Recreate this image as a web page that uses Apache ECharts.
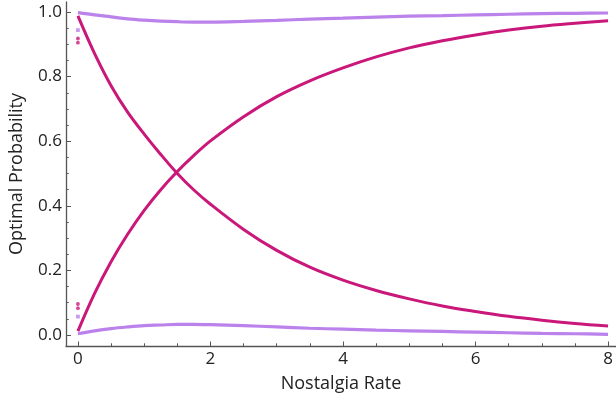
<!DOCTYPE html>
<html>
<head>
<meta charset="utf-8">
<script src="https://cdn.jsdelivr.net/npm/echarts@6/dist/echarts.min.js"></script>
<style>html,body{margin:0;padding:0;background:#fff;}#c{width:616px;height:402px;}</style>
</head>
<body>
<div id="c"></div>
<script>
var xs = [0, 0.25, 0.5, 0.75, 1, 1.25, 1.5, 1.75, 2, 2.5, 3, 3.5, 4, 4.5, 5, 5.5, 6, 6.5, 7, 7.5, 8];
var decreasing = [0.988, 0.872, 0.772, 0.690, 0.622, 0.559, 0.500, 0.449, 0.405, 0.327, 0.262, 0.210, 0.170, 0.138, 0.112, 0.090, 0.073, 0.058, 0.046, 0.036, 0.028];
var increasing = [0.012, 0.128, 0.227, 0.312, 0.386, 0.450, 0.506, 0.556, 0.601, 0.676, 0.738, 0.787, 0.827, 0.861, 0.889, 0.911, 0.929, 0.944, 0.956, 0.965, 0.973];
var upperLight = [0.998, 0.991, 0.985, 0.979, 0.975, 0.972, 0.970, 0.969, 0.969, 0.971, 0.974, 0.978, 0.981, 0.984, 0.987, 0.989, 0.991, 0.993, 0.995, 0.996, 0.997];
var lowerLight = [0.004, 0.013, 0.020, 0.025, 0.029, 0.031, 0.033, 0.033, 0.032, 0.029, 0.025, 0.021, 0.018, 0.015, 0.013, 0.011, 0.009, 0.007, 0.005, 0.004, 0.002];
var dotsDark = [[0, 0.918], [0, 0.905], [0, 0.096], [0, 0.083]];
var dotsLight = [[0, 0.944], [0, 0.057]];
var xMajorTicks = [0, 2, 4, 6, 8];
var xMinorTicks = [0.5, 1, 1.5, 2.5, 3, 3.5, 4.5, 5, 5.5, 6.5, 7, 7.5];
var yMajorTicks = [0, 0.2, 0.4, 0.6, 0.8, 1.0];
var yMinorTicks = [0.05, 0.1, 0.15, 0.25, 0.3, 0.35, 0.45, 0.5, 0.55, 0.65, 0.7, 0.75, 0.85, 0.9, 0.95];

var dark = '#c9177a';
var light = '#bb82ec';
var axisCol = '#555';
var font = 'Open Sans';

function pairs(ys) { return xs.map(function (x, i) { return [x, ys[i]]; }); }

var chart = echarts.init(document.getElementById('c'), null, { renderer: 'canvas' });
chart.setOption({
  animation: false,
  grid: { left: 63, right: 0, top: 2, bottom: 56 },
  xAxis: [{
    type: 'value', min: -0.18, max: 8.12,
    name: 'Nostalgia Rate', nameLocation: 'middle', nameGap: 29,
    nameTextStyle: { fontFamily: font, fontSize: 18, color: '#222' },
    axisLine: { show: true, onZero: false, lineStyle: { color: axisCol, width: 1.3 } },
    axisTick: { show: true, inside: true, length: 4.5, customValues: xMajorTicks, lineStyle: { color: axisCol } },
    axisLabel: { show: true, customValues: xMajorTicks, margin: 5, fontFamily: font, fontSize: 17, color: '#222' },
    splitLine: { show: false }
  }, {
    type: 'value', min: -0.18, max: 8.12, position: 'bottom', gridIndex: 0,
    axisLine: { show: false, onZero: false },
    axisTick: { show: true, inside: true, length: 2.7, customValues: xMinorTicks, lineStyle: { color: axisCol } },
    axisLabel: { show: false },
    splitLine: { show: false }
  }],
  yAxis: [{
    type: 'value', min: -0.034, max: 1.031,
    name: 'Optimal Probability', nameLocation: 'middle', nameGap: 40,
    nameTextStyle: { fontFamily: font, fontSize: 18, color: '#222' },
    axisLine: { show: true, onZero: false, lineStyle: { color: axisCol, width: 1.3 } },
    axisTick: { show: true, inside: true, length: 5, customValues: yMajorTicks, lineStyle: { color: axisCol } },
    axisLabel: { show: true, customValues: yMajorTicks, margin: 4, fontFamily: font, fontSize: 17, color: '#222',
      formatter: function (v) { return v.toFixed(1); } },
    splitLine: { show: false }
  }, {
    type: 'value', min: -0.034, max: 1.031, position: 'left',
    axisLine: { show: false, onZero: false },
    axisTick: { show: true, inside: true, length: 2.7, customValues: yMinorTicks, lineStyle: { color: axisCol } },
    axisLabel: { show: false },
    splitLine: { show: false }
  }],
  series: [
    { type: 'line', data: pairs(upperLight), smooth: 0.35, showSymbol: false, lineStyle: { color: light, width: 3.2 } },
    { type: 'line', data: pairs(lowerLight), smooth: 0.35, showSymbol: false, lineStyle: { color: light, width: 3.2 } },
    { type: 'line', data: pairs(decreasing), smooth: 0.35, showSymbol: false, lineStyle: { color: dark, width: 3 } },
    { type: 'line', data: pairs(increasing), smooth: 0.35, showSymbol: false, lineStyle: { color: dark, width: 3 } },
    { type: 'scatter', data: dotsDark, symbol: 'circle', symbolSize: 3.8, itemStyle: { color: dark } },
    { type: 'scatter', data: dotsLight, symbol: 'rect', symbolSize: 3.8, itemStyle: { color: light } }
  ]
});
</script>
</body>
</html>
